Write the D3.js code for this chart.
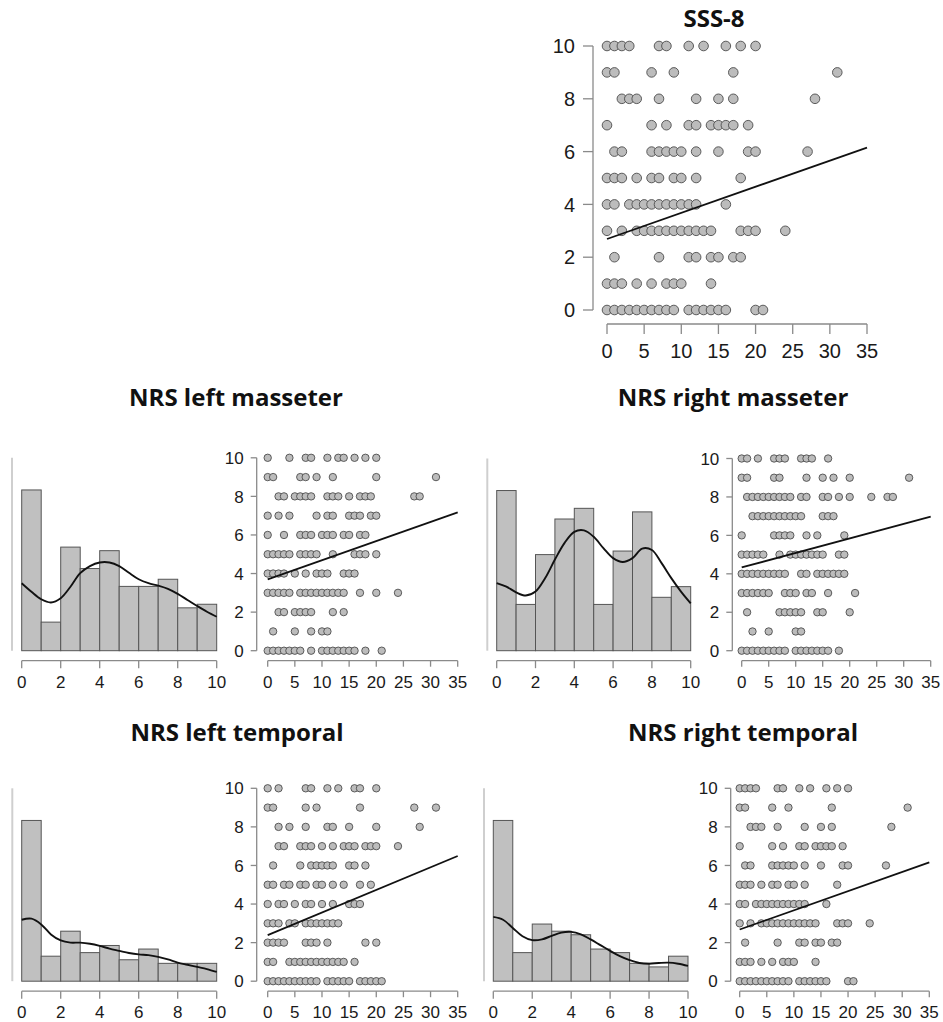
<!DOCTYPE html>
<html>
<head>
<meta charset="utf-8">
<script src="https://cdnjs.cloudflare.com/ajax/libs/d3/7.8.5/d3.min.js"></script>
<style>
  body { margin: 0; background: #fff; }
  svg { display: block; }
</style>
</head>
<body>
<svg id="chart" width="943" height="1022"></svg>
<script>
// ---- tick labels ----
const scatterXTicks = [0, 5, 10, 15, 20, 25, 30, 35];
const scatterYTicks = [0, 2, 4, 6, 8, 10];
const histXTicks = [0, 2, 4, 6, 8, 10];
const histBinEdges = [0, 1, 2, 3, 4, 5, 6, 7, 8, 9, 10];
const densityGrid = [0, 0.5, 1, 1.5, 2, 2.5, 3, 3.5, 4, 4.5, 5, 5.5, 6, 6.5, 7, 7.5, 8, 8.5, 9, 9.5, 10];

// ---- SSS-8 scores observed at each NRS level (index = NRS 0..10) ----
const leftMasseterRows = [
  [0,1,2,3,4,5,6,8,10,11,12,13,14,15,16,18,21],
  [1,5,8,10,11],
  [2,3,5,6,7,8,12,14],
  [0,1,2,3,4,6,7,8,9,10,11,12,13,14,17,20,24],
  [0,1,2,3,5,7,9,10,11,14,15,16],
  [0,1,2,3,4,6,7,8,9,12,16,17,18,20],
  [0,3,6,7,8,10,11,12,14,15,17,18],
  [0,2,4,9,11,12,15,16,17,19,20],
  [2,3,5,6,7,8,11,12,13,15,17,18,19,27,28],
  [0,1,6,7,9,12,20,31],
  [0,4,7,8,11,13,14,16,18,20]
];
const rightMasseterRows = [
  [0,1,2,3,4,5,6,7,8,10,11,12,13,14,15,16,18],
  [2,5,10,11],
  [1,7,8,9,10,11,14,15,20],
  [0,1,2,3,4,5,8,9,10,12,13,16,21],
  [0,1,2,3,4,5,6,7,8,11,12,14,15,16,17,18,19],
  [0,1,2,3,4,7,9,10,11,12,13,14,15,18,19],
  [0,6,7,8,9,12,14,19],
  [2,3,4,5,6,7,8,9,10,11,15,16,17],
  [1,2,3,4,5,6,7,8,9,11,12,15,16,18,20,24,27,28],
  [0,1,6,7,12,15,17,20,31],
  [0,1,3,6,7,8,11,12,13,16]
];
const leftTemporalRows = [
  [0,1,2,3,4,5,6,7,8,9,11,12,13,14,15,17,18,19,20,21],
  [0,1,4,5,6,7,8,9,10,11,12,13,14,16],
  [0,1,2,3,7,8,9,11,18,20],
  [0,1,2,4,5,7,8,9,10,11,12,13],
  [0,2,3,5,7,8,10,12,15,16,17],
  [0,1,3,4,6,7,9,10,12,14,17,19],
  [1,6,8,9,10,11,12,15,16,18],
  [2,3,6,7,8,10,12,14,15,16,18,19,20,24],
  [2,4,7,11,12,15,20,28],
  [0,1,7,9,17,27,31],
  [0,2,7,8,11,13,16,17,20]
];
const rightTemporalRows = [
  [0,1,2,3,4,5,6,7,8,9,11,12,13,14,15,16,20,21],
  [0,1,2,4,6,8,9,10,14],
  [1,7,11,12,14,15,17,18],
  [0,2,4,5,6,7,8,9,10,11,12,13,14,18,19,20,24],
  [0,1,3,4,5,6,7,8,9,10,11,12,16],
  [0,1,2,4,6,7,9,10,12,18],
  [1,2,6,7,8,9,10,12,15,19,20,27],
  [0,6,8,11,12,14,15,16,17,19],
  [2,3,4,7,12,15,17,28],
  [0,1,6,9,17,31],
  [0,1,2,3,7,8,11,13,16,18,20]
];
// the SSS-8 overview panel shows the same pairs as the right temporal NRS
const sss8Rows = rightTemporalRows;

// ---- fitted NRS at SSS-8 = 0 and SSS-8 = 35 ----
const fitSss8 = [2.69, 6.15];
const fitLeftMasseter = [3.70, 7.17];
const fitRightMasseter = [4.33, 6.97];
const fitLeftTemporal = [2.39, 6.49];
const fitRightTemporal = [2.68, 6.16];

// ---- NRS histogram counts, bins [0,1], (1,2], ..., (9,10] ----
const histLeftMasseter = [45, 8, 29, 23, 28, 18, 18, 20, 12, 13];
const histRightMasseter = [45, 13, 27, 37, 40, 13, 28, 39, 15, 18];
const histLeftTemporal = [45, 7, 14, 8, 10, 6, 9, 5, 5, 5];
const histRightTemporal = [45, 8, 16, 14, 13, 9, 8, 5, 4, 7];

// ---- kernel density on the count scale, sampled on densityGrid ----
const densLeftMasseter = [18.9, 16.5, 14.4, 13.5, 14.7, 17.9, 21.7, 23.7, 24.7, 24.7, 23.7, 21.8, 20.0, 18.9, 18.2, 17.3, 15.9, 14.2, 12.5, 10.9, 9.5];
const densRightMasseter = [19.0, 18.0, 16.4, 15.5, 16.6, 20.4, 25.6, 30.3, 33.4, 33.8, 32.0, 28.8, 26.0, 24.9, 26.0, 28.7, 28.3, 24.6, 20.4, 16.6, 13.3];
const densLeftTemporal = [17.2, 17.5, 15.9, 13.1, 11.4, 10.8, 10.8, 10.5, 9.9, 9.1, 8.5, 7.9, 7.5, 7.3, 6.8, 6.1, 5.2, 4.6, 4.0, 3.4, 2.6];
const densRightTemporal = [18.0, 17.2, 14.9, 12.6, 11.5, 11.7, 12.7, 13.6, 13.8, 13.1, 11.7, 10.1, 8.5, 7.0, 5.9, 5.1, 4.9, 5.1, 5.2, 4.9, 4.3];

const histYMax = 54;

// ---- styling ----
const TICK_FONT = "'Liberation Sans', Arial, sans-serif";
const TITLE_FONT = "'Open Sans', 'Noto Sans', sans-serif";
const AXIS_COLOR = "#8a8a8a";
const POINT_FILL = "#bcbcbc";
const POINT_STROKE = "#4d4d4d";
const BAR_FILL = "#c0c0c0";
const BAR_STROKE = "#555";

const svg = d3.select("#chart");

function toPoints(rows) {
  const pts = [];
  rows.forEach((xs, nrs) => xs.forEach(x => pts.push({ x, y: nrs })));
  return pts;
}

// Scatter with custom (offset) axes and a fitted line
function drawScatter(g, opts) {
  const { rows, fit, xRange, yRange, axisX, axisY, r, fontSize, tickLen, labelGap, labelBase } = opts;
  const x = d3.scaleLinear().domain([0, 35]).range(xRange);
  const y = d3.scaleLinear().domain([0, 10]).range(yRange);

  // y axis
  const ya = g.append("g").attr("class", "y-axis");
  ya.append("line")
    .attr("x1", axisX).attr("x2", axisX)
    .attr("y1", y(10)).attr("y2", y(0))
    .attr("stroke", AXIS_COLOR).attr("stroke-width", 1.3);
  ya.selectAll("line.tick").data(scatterYTicks).join("line")
    .attr("class", "tick")
    .attr("x1", axisX - tickLen).attr("x2", axisX)
    .attr("y1", d => y(d)).attr("y2", d => y(d))
    .attr("stroke", AXIS_COLOR).attr("stroke-width", 1.3);
  ya.selectAll("text").data(scatterYTicks).join("text")
    .attr("x", axisX - tickLen - labelGap)
    .attr("y", d => y(d))
    .attr("dy", "0.36em")
    .attr("text-anchor", "end")
    .attr("font-family", TICK_FONT).attr("font-size", fontSize)
    .attr("fill", "#1a1a1a")
    .text(d => d);

  // x axis
  const xa = g.append("g").attr("class", "x-axis");
  xa.append("line")
    .attr("x1", x(0)).attr("x2", x(35))
    .attr("y1", axisY).attr("y2", axisY)
    .attr("stroke", AXIS_COLOR).attr("stroke-width", 1.3);
  xa.selectAll("line.tick").data(scatterXTicks).join("line")
    .attr("class", "tick")
    .attr("x1", d => x(d)).attr("x2", d => x(d))
    .attr("y1", axisY).attr("y2", axisY + tickLen)
    .attr("stroke", AXIS_COLOR).attr("stroke-width", 1.3);
  xa.selectAll("text").data(scatterXTicks).join("text")
    .attr("x", d => x(d))
    .attr("y", labelBase)
    .attr("text-anchor", "middle")
    .attr("font-family", TICK_FONT).attr("font-size", fontSize)
    .attr("fill", "#1a1a1a")
    .text(d => d);

  // points
  g.append("g").selectAll("circle").data(toPoints(rows)).join("circle")
    .attr("cx", d => x(d.x)).attr("cy", d => y(d.y)).attr("r", r)
    .attr("fill", POINT_FILL).attr("stroke", POINT_STROKE).attr("stroke-width", 0.9);

  // fitted line
  g.append("line")
    .attr("x1", x(0)).attr("y1", y(fit[0]))
    .attr("x2", x(35)).attr("y2", y(fit[1]))
    .attr("stroke", "#111").attr("stroke-width", 1.8);
}

// Histogram with a density curve on top
function drawHist(g, opts) {
  const { counts, dens, xRange, base, top, axisX, axisY, fontSize, tickLen, labelBase } = opts;
  const x = d3.scaleLinear().domain([0, 10]).range(xRange);
  const y = d3.scaleLinear().domain([0, histYMax]).range([base, top]);

  g.append("line")
    .attr("x1", axisX).attr("x2", axisX)
    .attr("y1", top).attr("y2", base)
    .attr("stroke", "#cfcfcf").attr("stroke-width", 2);

  g.append("g").selectAll("rect").data(counts).join("rect")
    .attr("x", (d, i) => x(histBinEdges[i]))
    .attr("width", (d, i) => x(histBinEdges[i + 1]) - x(histBinEdges[i]))
    .attr("y", d => y(d))
    .attr("height", d => y(0) - y(d))
    .attr("fill", BAR_FILL).attr("stroke", BAR_STROKE).attr("stroke-width", 1);

  const line = d3.line()
    .x((d, i) => x(densityGrid[i]))
    .y(d => y(d))
    .curve(d3.curveCatmullRom.alpha(0.5));
  g.append("path").datum(dens)
    .attr("d", line)
    .attr("fill", "none").attr("stroke", "#111").attr("stroke-width", 1.9);

  const xa = g.append("g");
  xa.append("line")
    .attr("x1", x(0)).attr("x2", x(10))
    .attr("y1", axisY).attr("y2", axisY)
    .attr("stroke", AXIS_COLOR).attr("stroke-width", 1.3);
  xa.selectAll("line.tick").data(histXTicks).join("line")
    .attr("class", "tick")
    .attr("x1", d => x(d)).attr("x2", d => x(d))
    .attr("y1", axisY).attr("y2", axisY + tickLen)
    .attr("stroke", AXIS_COLOR).attr("stroke-width", 1.3);
  xa.selectAll("text").data(histXTicks).join("text")
    .attr("x", d => x(d))
    .attr("y", labelBase)
    .attr("text-anchor", "middle")
    .attr("font-family", TICK_FONT).attr("font-size", fontSize)
    .attr("fill", "#1a1a1a")
    .text(d => d);
}

function title(text, cx, baseline) {
  svg.append("text")
    .attr("x", cx).attr("y", baseline)
    .attr("text-anchor", "middle")
    .attr("font-family", TITLE_FONT).attr("font-weight", 700)
    .attr("font-size", 24).attr("fill", "#111")
    .text(text);
}

// ---- SSS-8 overview ----
title("SSS-8", 714, 27);
drawScatter(svg.append("g"), {
  rows: sss8Rows, fit: fitSss8,
  xRange: [607, 867], yRange: [310, 46],
  axisX: 593, axisY: 324, r: 4.8, fontSize: 20,
  tickLen: 10, labelGap: 8, labelBase: 358
});

// ---- NRS panels ----
const panels = [
  { name: "NRS left masseter", tx: 236, ty: 406, rows: leftMasseterRows, fit: fitLeftMasseter,
    counts: histLeftMasseter, dens: densLeftMasseter, base: 650.7, top: 457.8,
    hAxisX: 12, hRange: [21.7, 216.7], sAxisX: 256.7, sRange: [267.7, 457.7] },
  { name: "NRS right masseter", tx: 733, ty: 406, rows: rightMasseterRows, fit: fitRightMasseter,
    counts: histRightMasseter, dens: densRightMasseter, base: 650.7, top: 458.5,
    hAxisX: 487.3, hRange: [496.7, 690.7], sAxisX: 732.3, sRange: [741.7, 930.7] },
  { name: "NRS left temporal", tx: 237, ty: 741, rows: leftTemporalRows, fit: fitLeftTemporal,
    counts: histLeftTemporal, dens: densLeftTemporal, base: 981.2, top: 788.3,
    hAxisX: 12.3, hRange: [21.7, 216.7], sAxisX: 256.7, sRange: [267.7, 457.7] },
  { name: "NRS right temporal", tx: 743, ty: 741, rows: rightTemporalRows, fit: fitRightTemporal,
    counts: histRightTemporal, dens: densRightTemporal, base: 981.2, top: 788.3,
    hAxisX: 484, hRange: [493.3, 688], sAxisX: 730.7, sRange: [739.7, 929.3] }
];

panels.forEach(p => {
  title(p.name, p.tx, p.ty);
  const g = svg.append("g");
  drawHist(g.append("g"), {
    counts: p.counts, dens: p.dens, xRange: p.hRange,
    base: p.base, top: p.top, axisX: p.hAxisX, axisY: p.base + 10,
    fontSize: 17, tickLen: 7.5, labelBase: p.base + 37
  });
  drawScatter(g.append("g"), {
    rows: p.rows, fit: p.fit,
    xRange: p.sRange, yRange: [p.base, p.top],
    axisX: p.sAxisX, axisY: p.base + 10, r: 3.7, fontSize: 17,
    tickLen: 6, labelGap: 7, labelBase: p.base + 37
  });
});
</script>
</body>
</html>
